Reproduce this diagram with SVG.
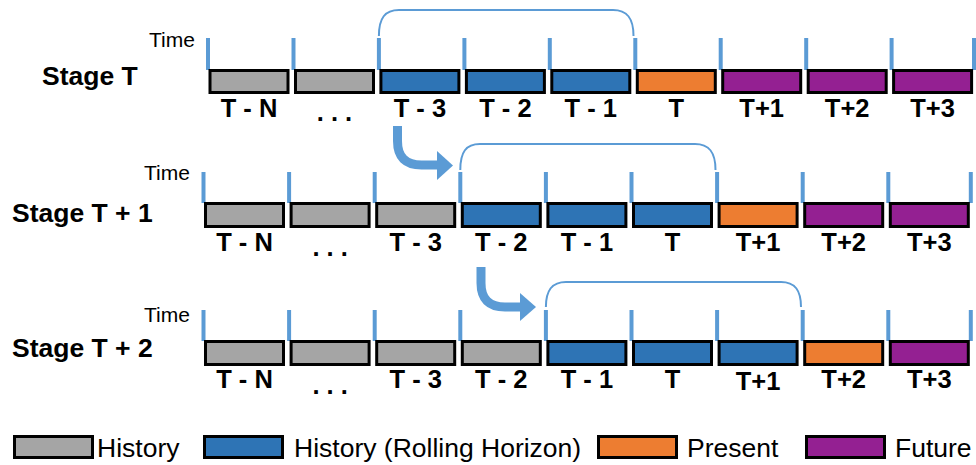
<svg xmlns="http://www.w3.org/2000/svg" width="976" height="465" viewBox="0 0 976 465">
  <style>
    .box { stroke: #000; stroke-width: 3; }
    .hist { fill: #A5A5A5; }
    .roll { fill: #2E74B5; }
    .pres { fill: #ED7D31; }
    .fut { fill: #942092; }
    .lbl { font-family: "Liberation Sans", Arial, sans-serif; font-weight: bold; font-size: 25.5px; text-anchor: middle; fill: #000; }
    .stage { font-family: "Liberation Sans", Arial, sans-serif; font-weight: bold; font-size: 26.5px; fill: #000; }
    .time { font-family: "Liberation Sans", Arial, sans-serif; font-size: 21px; fill: #000; }
    .leg { font-family: "Liberation Sans", Arial, sans-serif; font-size: 26.5px; fill: #000; }
    .tick { stroke: #5B9BD5; stroke-width: 4; }
    .brace { fill: none; stroke: #5B9BD5; stroke-width: 2; }
    .shaft { fill: none; stroke: #5B9BD5; stroke-width: 9; }
    .head { fill: #5B9BD5; }
  </style>

  <!-- time axis ticks -->
  <g id="ticks">
    <g id="ticks-stage-t">
      <line class="tick" x1="208" y1="38" x2="208" y2="70"/>
      <line class="tick" x1="293.5" y1="38" x2="293.5" y2="70"/>
      <line class="tick" x1="378.9" y1="38" x2="378.9" y2="70"/>
      <line class="tick" x1="464.4" y1="38" x2="464.4" y2="70"/>
      <line class="tick" x1="549.8" y1="38" x2="549.8" y2="70"/>
      <line class="tick" x1="635.3" y1="38" x2="635.3" y2="70"/>
      <line class="tick" x1="720.7" y1="38" x2="720.7" y2="70"/>
      <line class="tick" x1="806.2" y1="38" x2="806.2" y2="70"/>
      <line class="tick" x1="891.6" y1="38" x2="891.6" y2="70"/>
      <line class="tick" x1="974" y1="38" x2="974" y2="70"/>
    </g>
    <g id="ticks-stage-t1">
      <line class="tick" x1="203.5" y1="172" x2="203.5" y2="203"/>
      <line class="tick" x1="289.1" y1="172" x2="289.1" y2="203"/>
      <line class="tick" x1="374.7" y1="172" x2="374.7" y2="203"/>
      <line class="tick" x1="460.3" y1="172" x2="460.3" y2="203"/>
      <line class="tick" x1="545.9" y1="172" x2="545.9" y2="203"/>
      <line class="tick" x1="631.5" y1="172" x2="631.5" y2="203"/>
      <line class="tick" x1="717.1" y1="172" x2="717.1" y2="203"/>
      <line class="tick" x1="802.7" y1="172" x2="802.7" y2="203"/>
      <line class="tick" x1="888.3" y1="172" x2="888.3" y2="203"/>
      <line class="tick" x1="970.8" y1="172" x2="970.8" y2="203"/>
    </g>
    <g id="ticks-stage-t2">
      <line class="tick" x1="203.5" y1="310" x2="203.5" y2="341"/>
      <line class="tick" x1="289.1" y1="310" x2="289.1" y2="341"/>
      <line class="tick" x1="374.7" y1="310" x2="374.7" y2="341"/>
      <line class="tick" x1="460.3" y1="310" x2="460.3" y2="341"/>
      <line class="tick" x1="545.9" y1="310" x2="545.9" y2="341"/>
      <line class="tick" x1="631.5" y1="310" x2="631.5" y2="341"/>
      <line class="tick" x1="717.1" y1="310" x2="717.1" y2="341"/>
      <line class="tick" x1="802.7" y1="310" x2="802.7" y2="341"/>
      <line class="tick" x1="888.3" y1="310" x2="888.3" y2="341"/>
      <line class="tick" x1="970.8" y1="310" x2="970.8" y2="341"/>
    </g>
  </g>

  <!-- stage and axis captions -->
  <g id="captions">
    <text class="time" x="149" y="47">Time</text>
    <text class="stage" x="42" y="85">Stage T</text>
    <text class="time" x="144" y="180">Time</text>
    <text class="stage" x="12" y="222">Stage T + 1</text>
    <text class="time" x="144" y="322">Time</text>
    <text class="stage" x="12" y="357">Stage T + 2</text>
  </g>

  <!-- Stage T -->
  <g id="stage-t">
    <g id="t0-tn"><rect class="box hist" x="210" y="70.5" width="78" height="22"/><text class="lbl" x="249" y="117">T - N</text></g>
    <g id="t0-dots"><rect class="box hist" x="295.5" y="70.5" width="78" height="22"/><text class="lbl" x="334.5" y="121">. . .</text></g>
    <g id="t0-tm3"><rect class="box roll" x="380.9" y="70.5" width="78" height="22"/><text class="lbl" x="419.9" y="117">T - 3</text></g>
    <g id="t0-tm2"><rect class="box roll" x="466.4" y="70.5" width="78" height="22"/><text class="lbl" x="505.4" y="117">T - 2</text></g>
    <g id="t0-tm1"><rect class="box roll" x="551.8" y="70.5" width="78" height="22"/><text class="lbl" x="590.8" y="117">T - 1</text></g>
    <g id="t0-t"><rect class="box pres" x="637.3" y="70.5" width="78" height="22"/><text class="lbl" x="676.3" y="117">T</text></g>
    <g id="t0-tp1"><rect class="box fut" x="722.7" y="70.5" width="78" height="22"/><text class="lbl" x="761.7" y="117">T+1</text></g>
    <g id="t0-tp2"><rect class="box fut" x="808.2" y="70.5" width="78" height="22"/><text class="lbl" x="847.2" y="117">T+2</text></g>
    <g id="t0-tp3"><rect class="box fut" x="893.6" y="70.5" width="78" height="22"/><text class="lbl" x="932.6" y="117">T+3</text></g>
  </g>

  <!-- Stage T + 1 -->
  <g id="stage-t1">
    <g id="t1-tn"><rect class="box hist" x="205.5" y="203.5" width="78" height="23"/><text class="lbl" x="244.5" y="251">T - N</text></g>
    <g id="t1-dots"><rect class="box hist" x="291.1" y="203.5" width="78" height="23"/><text class="lbl" x="330.1" y="256">. . .</text></g>
    <g id="t1-tm3"><rect class="box hist" x="376.7" y="203.5" width="78" height="23"/><text class="lbl" x="415.7" y="251">T - 3</text></g>
    <g id="t1-tm2"><rect class="box roll" x="462.3" y="203.5" width="78" height="23"/><text class="lbl" x="501.3" y="251">T - 2</text></g>
    <g id="t1-tm1"><rect class="box roll" x="547.9" y="203.5" width="78" height="23"/><text class="lbl" x="586.9" y="251">T - 1</text></g>
    <g id="t1-t"><rect class="box roll" x="633.5" y="203.5" width="78" height="23"/><text class="lbl" x="672.5" y="251">T</text></g>
    <g id="t1-tp1"><rect class="box pres" x="719.1" y="203.5" width="78" height="23"/><text class="lbl" x="758.1" y="251">T+1</text></g>
    <g id="t1-tp2"><rect class="box fut" x="804.7" y="203.5" width="78" height="23"/><text class="lbl" x="843.7" y="251">T+2</text></g>
    <g id="t1-tp3"><rect class="box fut" x="890.3" y="203.5" width="78" height="23"/><text class="lbl" x="929.3" y="251">T+3</text></g>
  </g>

  <!-- Stage T + 2 -->
  <g id="stage-t2">
    <g id="t2-tn"><rect class="box hist" x="205.5" y="341.5" width="78" height="23"/><text class="lbl" x="244.5" y="388">T - N</text></g>
    <g id="t2-dots"><rect class="box hist" x="291.1" y="341.5" width="78" height="23"/><text class="lbl" x="330.1" y="394">. . .</text></g>
    <g id="t2-tm3"><rect class="box hist" x="376.7" y="341.5" width="78" height="23"/><text class="lbl" x="415.7" y="388">T - 3</text></g>
    <g id="t2-tm2"><rect class="box hist" x="462.3" y="341.5" width="78" height="23"/><text class="lbl" x="501.3" y="388">T - 2</text></g>
    <g id="t2-tm1"><rect class="box roll" x="547.9" y="341.5" width="78" height="23"/><text class="lbl" x="586.9" y="388">T - 1</text></g>
    <g id="t2-t"><rect class="box roll" x="633.5" y="341.5" width="78" height="23"/><text class="lbl" x="672.5" y="388">T</text></g>
    <g id="t2-tp1"><rect class="box roll" x="719.1" y="341.5" width="78" height="23"/><text class="lbl" x="758.1" y="390">T+1</text></g>
    <g id="t2-tp2"><rect class="box pres" x="804.7" y="341.5" width="78" height="23"/><text class="lbl" x="843.7" y="388">T+2</text></g>
    <g id="t2-tp3"><rect class="box fut" x="890.3" y="341.5" width="78" height="23"/><text class="lbl" x="929.3" y="388">T+3</text></g>
  </g>

  <!-- rolling-horizon braces and shift arrows -->
  <g id="connectors">
    <path class="brace" d="M378.9,36 C378.9,18 385,10 399,10 L613,10 C627,10 633.5,18 633.5,36"/>
    <path class="brace" d="M460.3,170 C460.3,152 466,144 480,144 L695,144 C709,144 715.5,152 715.5,170"/>
    <path class="brace" d="M545.9,307 C545.9,290 552,282 566,282 L781,282 C795,282 801,290 801,307"/>
    <path class="shaft" d="M397.5,126 V141 Q397.5,165 421.5,165 H440"/>
    <polygon class="head" points="437,151 453,165.5 437,180"/>
    <path class="shaft" d="M481,267 V283 Q481,307 505,307 H523"/>
    <polygon class="head" points="520,293 536,307 520,321"/>
  </g>

  <!-- legend -->
  <g id="legend">
    <g id="legend-history"><rect class="box hist" x="14.5" y="436.5" width="78" height="21"/><text class="leg" x="97" y="457">History</text></g>
    <g id="legend-rolling"><rect class="box roll" x="204.5" y="436.5" width="78" height="21"/><text class="leg" x="294" y="457">History (Rolling Horizon)</text></g>
    <g id="legend-present"><rect class="box pres" x="598.5" y="436.5" width="78" height="21"/><text class="leg" x="687" y="457">Present</text></g>
    <g id="legend-future"><rect class="box fut" x="806.5" y="436.5" width="78" height="21"/><text class="leg" x="895" y="457">Future</text></g>
  </g>
</svg>
